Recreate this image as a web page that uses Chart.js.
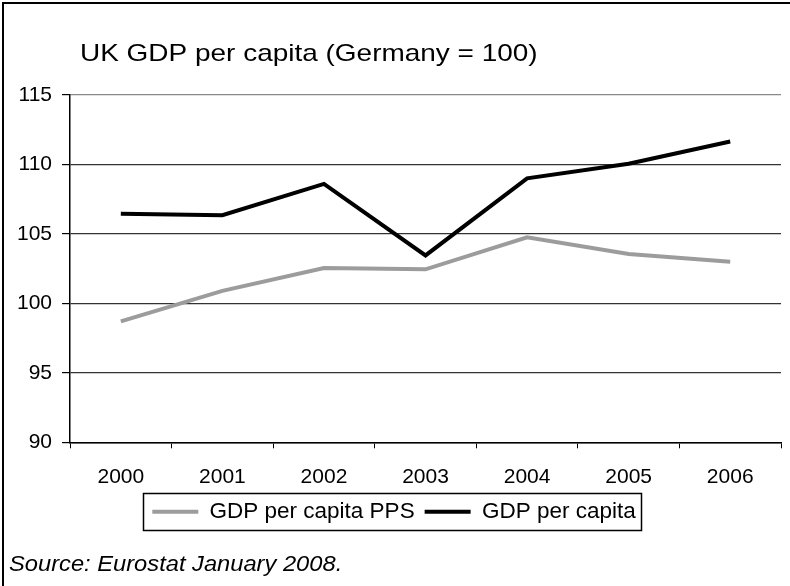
<!DOCTYPE html>
<html>
<head>
<meta charset="utf-8">
<script src="https://cdn.jsdelivr.net/npm/chart.js@4.4.0/dist/chart.umd.min.js"></script>
<style>
  html, body { margin: 0; padding: 0; background: #fff; overflow: hidden; }
</style>
</head>
<body>
<canvas id="gdpChart" width="790" height="586"></canvas>
<script>
var years = ['2000', '2001', '2002', '2003', '2004', '2005', '2006'];
var ppsValues = [98.7, 100.9, 102.55, 102.45, 104.75, 103.55, 103.0];
var gdpValues = [106.45, 106.35, 108.6, 103.45, 109.0, 110.05, 111.65];
var yTicks = [90, 95, 100, 105, 110, 115];

var titleText = 'UK GDP per capita (Germany = 100)';
var sourceText = 'Source: Eurostat January 2008.';
var fontFamily = '"Liberation Sans", Arial, Helvetica, sans-serif';

// frame, title, source note and the box round the legend
var extras = {
  id: 'extras',
  beforeDraw: function (chart) {
    var c = chart.ctx;
    c.save();
    c.fillStyle = '#fff';
    c.fillRect(0, 0, chart.width, chart.height);
    c.strokeStyle = '#000';
    c.lineWidth = 2;
    c.strokeRect(3, 3, chart.width + 20, chart.height + 20);
    c.restore();
  },
  afterDraw: function (chart) {
    var c = chart.ctx;
    c.save();
    c.fillStyle = '#000';
    c.textBaseline = 'alphabetic';

    c.save();
    c.translate(80, 61);
    c.scale(1.165, 1);
    c.font = '24px ' + fontFamily;
    c.fillText(titleText, 0, 0);
    c.restore();

    c.save();
    c.translate(9, 571);
    c.scale(1.077, 1);
    c.font = 'italic 22px ' + fontFamily;
    c.fillText(sourceText, 0, 0);
    c.restore();

    var hb = chart.legend.legendHitBoxes;
    if (hb && hb.length) {
      var first = hb[0], last = hb[hb.length - 1];
      var x0 = first.left - 9, x1 = last.left + last.width + 6;
      var yc = first.top + first.height / 2;
      var y0 = yc - 18.5, y1 = yc + 18.5;
      c.strokeStyle = '#000';
      c.lineWidth = 1.5;
      c.strokeRect(Math.round(x0) + 0.5, Math.round(y0) + 0.5, Math.round(x1 - x0), Math.round(y1 - y0));
    }
    c.restore();
  }
};

var ctx = document.getElementById('gdpChart').getContext('2d');
var gdpChart = new Chart(ctx, {
  type: 'line',
  data: {
    labels: years,
    datasets: [{
      label: 'GDP per capita PPS',
      data: ppsValues,
      borderColor: '#9c9c9c',
      backgroundColor: '#9c9c9c',
      borderWidth: 4,
      pointRadius: 0,
      tension: 0
    }, {
      label: 'GDP per capita',
      data: gdpValues,
      borderColor: '#000',
      backgroundColor: '#000',
      borderWidth: 4,
      pointRadius: 0,
      tension: 0
    }]
  },
  options: {
    responsive: false,
    animation: false,
    layout: {
      padding: { left: 7, right: 9, top: 95, bottom: 53 }
    },
    plugins: {
      title: { display: false },
      tooltip: { enabled: false },
      legend: {
        position: 'bottom',
        labels: {
          color: '#000',
          font: { family: fontFamily, size: 22.5 },
          usePointStyle: true,
          pointStyle: 'line',
          pointStyleWidth: 46,
          padding: 10
        }
      }
    },
    scales: {
      x: {
        type: 'category',
        offset: true,
        afterFit: function (scale) {
          scale.height -= 15;
        },
        grid: {
          offset: true,
          drawOnChartArea: true,
          drawTicks: true,
          tickLength: 6,
          tickColor: '#000',
          color: function (c) {
            return c.index === years.length ? '#888' : 'rgba(0,0,0,0)';
          }
        },
        border: { display: true, color: '#000', width: 1.5 },
        ticks: {
          color: '#000',
          padding: 16,
          maxRotation: 0,
          font: { family: fontFamily, size: 21 }
        }
      },
      y: {
        min: 90,
        max: 115,
        afterBuildTicks: function (axis) {
          axis.ticks = yTicks.map(function (v) { return { value: v }; });
        },
        grid: {
          tickLength: 8,
          tickColor: '#000',
          lineWidth: 1.2,
          color: function (c) {
            return c.tick && c.tick.value === 115 ? '#888' : '#333';
          }
        },
        border: { display: true, color: '#000', width: 1.5 },
        ticks: {
          color: '#000',
          padding: 10,
          font: { family: fontFamily, size: 21 }
        }
      }
    }
  },
  plugins: [extras]
});
</script>
</body>
</html>
